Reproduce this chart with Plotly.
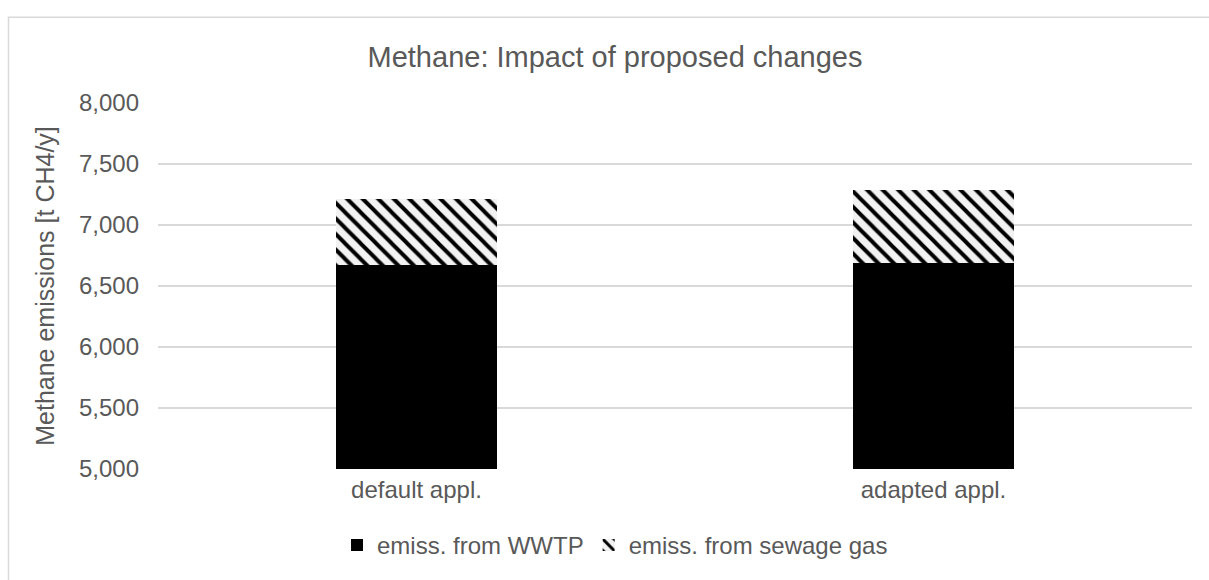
import plotly.graph_objects as go

categories = ["default appl.", "adapted appl."]
wwtp = [6670, 6690]
sewage_gas = [541, 595]
y_ticks = [5000, 5500, 6000, 6500, 7000, 7500, 8000]

TXT = "#595959"
GRID = "#d9d9d9"
FONT = "Liberation Sans, Arial, sans-serif"

fig = go.Figure()
fig.add_trace(go.Bar(
    x=categories, y=wwtp, name="emiss. from WWTP",
    marker=dict(color="black", line=dict(width=0)),
))
fig.add_trace(go.Bar(
    x=categories, y=sewage_gas, name="emiss. from sewage gas",
    marker=dict(color="#f2f2f2", line=dict(width=0),
                pattern=dict(shape="\\", fgcolor="black", bgcolor="#f2f2f2",
                             fgopacity=1, size=11, solidity=0.36)),
))

L, R, T, B = 158, 1209 - 1192, 103, 580 - 472
W, H = 1209, 580
pw = W - L - R
ph = H - T - B

fig.update_layout(
    width=W, height=H, barmode="stack", bargap=0.689,
    paper_bgcolor="white", plot_bgcolor="white",
    margin=dict(l=L, r=R, t=T, b=B),
    font=dict(family=FONT, color=TXT, size=24),
    title=dict(text="Methane: Impact of proposed changes", x=615 / W, xanchor="center",
               y=1 - 57 / H, yanchor="middle", font=dict(size=29, color=TXT)),
    showlegend=True,
    legend=dict(orientation="h", x=(615 - L) / pw, xanchor="center",
                y=(472 - 549) / ph, yanchor="middle",
                font=dict(size=24, color=TXT), itemwidth=30, traceorder="normal"),
    xaxis=dict(showgrid=False, showline=False, ticks="", tickfont=dict(size=24, color=TXT),
               ticklabelstandoff=4),
    yaxis=dict(range=[5000, 8000], tickvals=y_ticks, tickformat=",", showgrid=True,
               gridcolor=GRID, gridwidth=1.5, zeroline=False, showline=False,
               tickfont=dict(size=24, color=TXT), ticklabelstandoff=18,
               title=dict(text="Methane emissions [t CH4/y]", font=dict(size=25, color=TXT),
                          standoff=17)),
    shapes=[dict(type="rect", xref="paper", yref="paper",
                 x0=(8.5 - L) / pw, x1=(1230 - L) / pw,
                 y0=(472 - 600) / ph, y1=(472 - 16.5) / ph,
                 line=dict(color=GRID, width=1.5), fillcolor="rgba(0,0,0,0)", layer="below")],
)

fig.write_html("out.html")
